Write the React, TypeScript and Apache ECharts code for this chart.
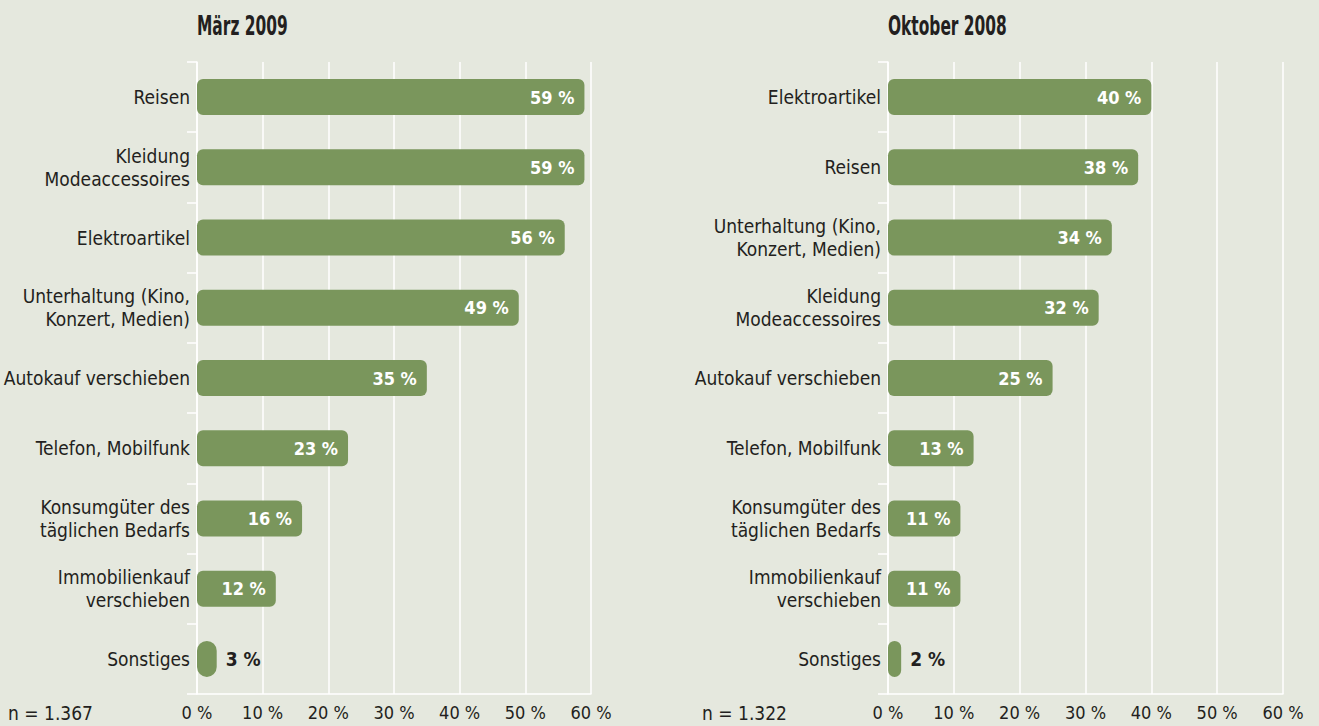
import React, { useEffect, useRef } from "react";
import * as echarts from "echarts";

const leftTitle = "März 2009";
const rightTitle = "Oktober 2008";
const leftN = "n = 1.367";
const rightN = "n = 1.322";

const leftCategories = [
  "Reisen",
  "Kleidung\nModeaccessoires",
  "Elektroartikel",
  "Unterhaltung (Kino,\nKonzert, Medien)",
  "Autokauf verschieben",
  "Telefon, Mobilfunk",
  "Konsumgüter des\ntäglichen Bedarfs",
  "Immobilienkauf\nverschieben",
  "Sonstiges",
];
const leftValues = [59, 59, 56, 49, 35, 23, 16, 12, 3];

const rightCategories = [
  "Elektroartikel",
  "Reisen",
  "Unterhaltung (Kino,\nKonzert, Medien)",
  "Kleidung\nModeaccessoires",
  "Autokauf verschieben",
  "Telefon, Mobilfunk",
  "Konsumgüter des\ntäglichen Bedarfs",
  "Immobilienkauf\nverschieben",
  "Sonstiges",
];
const rightValues = [40, 38, 34, 32, 25, 13, 11, 11, 2];

const axisMin = 0;
const axisMax = 60;
const axisInterval = 10;

const FONT = "'Liberation Sans Narrow', 'Arial Narrow', 'DejaVu Sans Condensed', sans-serif";
const BG = "#e5e8de";
const BAR = "#7a965c";
const TEXT = "#231f20";

function barData(values: number[]) {
  return values.map((v) =>
    v < 5
      ? {
          value: v,
          itemStyle: { borderRadius: 10 },
          label: { position: "right", color: TEXT, distance: 9, fontSize: 19 },
        }
      : { value: v }
  );
}

function makeXAxis(gridIndex: number) {
  return {
    type: "value",
    gridIndex,
    min: axisMin,
    max: axisMax,
    interval: axisInterval,
    axisLine: { show: true, lineStyle: { color: "#ffffff", width: 1.5 } },
    axisTick: { show: false },
    splitLine: { show: true, lineStyle: { color: "#ffffff", width: 1.5 } },
    axisLabel: {
      formatter: "{value} %",
      color: TEXT,
      fontFamily: FONT,
      fontSize: 18,
      margin: 9,
    },
  };
}

function makeYAxis(gridIndex: number, data: string[]) {
  return {
    type: "category",
    gridIndex,
    inverse: true,
    data,
    axisLine: { show: true, lineStyle: { color: "#ffffff", width: 1.5 } },
    axisTick: { show: true, length: 10, lineStyle: { color: "#ffffff", width: 1.5 } },
    axisLabel: {
      color: TEXT,
      fontFamily: FONT,
      fontSize: 19,
      lineHeight: 23,
      margin: 7,
    },
  };
}

function makeSeries(idx: number, values: number[]) {
  return {
    type: "bar",
    xAxisIndex: idx,
    yAxisIndex: idx,
    data: barData(values),
    barWidth: 36,
    itemStyle: { color: BAR, borderRadius: 6 },
    label: {
      show: true,
      position: "insideRight",
      distance: 10,
      formatter: "{c} %",
      color: "#ffffff",
      fontFamily: FONT,
      fontWeight: "bold",
      fontSize: 18,
    },
  };
}

export default function App() {
  const ref = useRef<HTMLDivElement>(null);
  useEffect(() => {
    document.body.style.margin = "0";
    const chart = echarts.init(ref.current!, null, { renderer: "svg" });
    chart.setOption({
      animation: false,
      backgroundColor: BG,
      grid: [
        { left: 197, top: 62, width: 394, height: 632, containLabel: false, outerBoundsMode: "none" },
        { left: 888, top: 62, width: 395, height: 632, containLabel: false, outerBoundsMode: "none" },
      ],
      xAxis: [makeXAxis(0), makeXAxis(1)],
      yAxis: [makeYAxis(0, leftCategories), makeYAxis(1, rightCategories)],
      series: [makeSeries(0, leftValues), makeSeries(1, rightValues)],
      graphic: [
        {
          type: "text",
          x: 197,
          y: 13,
          scaleX: 0.66,
          style: { text: leftTitle, fill: TEXT, font: `bold 26px ${FONT}` },
        },
        {
          type: "text",
          x: 888,
          y: 13,
          scaleX: 0.66,
          style: { text: rightTitle, fill: TEXT, font: `bold 26px ${FONT}` },
        },
        {
          type: "text",
          x: 8,
          y: 703,
          style: { text: leftN, fill: TEXT, font: `19px ${FONT}` },
        },
        {
          type: "text",
          x: 702,
          y: 703,
          style: { text: rightN, fill: TEXT, font: `19px ${FONT}` },
        },
      ],
    });
    return () => chart.dispose();
  }, []);
  return (
    <div
      ref={ref}
      style={{ position: "absolute", left: 0, top: 0, width: 1319, height: 726 }}
    />
  );
}
